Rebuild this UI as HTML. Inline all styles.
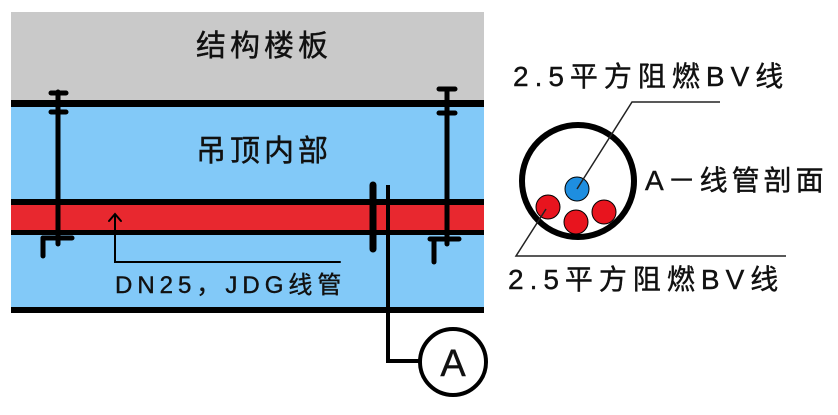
<!DOCTYPE html>
<html><head><meta charset="utf-8"><style>
html,body{margin:0;padding:0;background:#fff;width:838px;height:415px;overflow:hidden}
svg{display:block}
text{font-family:"Liberation Sans","Noto Sans CJK SC",sans-serif;fill:#111;stroke:#111;stroke-width:0.4}
</style></head><body>
<svg width="838" height="415" viewBox="0 0 838 415" xmlns="http://www.w3.org/2000/svg">
<rect x="11" y="12" width="473" height="90" fill="#c9c9c9"/>
<rect x="11" y="102" width="473" height="208" fill="#82c9f8"/>
<rect x="11" y="100" width="473" height="7" fill="#000"/>
<rect x="11" y="205" width="473" height="25" fill="#e8282f"/>
<rect x="11" y="199" width="473" height="6" fill="#000"/>
<rect x="11" y="230" width="473" height="5" fill="#000"/>
<rect x="11" y="307" width="473" height="6" fill="#000"/>
<text x="264" y="56" font-size="30" text-anchor="middle" letter-spacing="4">结构楼板</text>
<text x="264" y="161" font-size="30" text-anchor="middle" letter-spacing="4">吊顶内部</text>
<g stroke="#000" stroke-linecap="round" fill="none">
<line x1="58" y1="92" x2="58" y2="244" stroke-width="5"/>
<line x1="51" y1="93" x2="66" y2="93" stroke-width="5"/>
<line x1="51" y1="112" x2="66" y2="112" stroke-width="5"/>
<line x1="43" y1="238" x2="72" y2="238" stroke-width="5"/>
<line x1="43" y1="238" x2="43" y2="256" stroke-width="5"/>
<line x1="447" y1="89" x2="447" y2="244" stroke-width="5"/>
<line x1="439" y1="89" x2="455" y2="89" stroke-width="5"/>
<line x1="439" y1="113" x2="455" y2="113" stroke-width="5"/>
<line x1="430" y1="239" x2="459" y2="239" stroke-width="5"/>
<line x1="434" y1="239" x2="434" y2="262" stroke-width="5"/>
<line x1="373" y1="185" x2="373" y2="249" stroke-width="7"/>
<polyline points="388,185 388,361 420,361" stroke-width="4" stroke-linecap="butt"/>
<circle cx="453" cy="362" r="33" stroke-width="4"/>
<polyline points="340,262 115,262 115,215" stroke-width="2"/>
<polyline points="109,221 115,214 121,221" stroke-width="2"/>
</g>
<text x="453" y="376" font-size="38" text-anchor="middle">A</text>
<text x="115" y="293" font-size="24" letter-spacing="5">DN25，JDG线管</text>
<circle cx="578" cy="181" r="56" fill="#fff" stroke="#000" stroke-width="6"/>
<circle cx="577" cy="189" r="12" fill="#1e8ee0" stroke="#000" stroke-width="1"/>
<circle cx="548" cy="207" r="12" fill="#e8141e" stroke="#000" stroke-width="1"/>
<circle cx="576" cy="222" r="12" fill="#e8141e" stroke="#000" stroke-width="1"/>
<circle cx="604" cy="212" r="12" fill="#e8141e" stroke="#000" stroke-width="1"/>
<polyline points="577,189 632,102 720,102" fill="none" stroke="#222" stroke-width="1.5"/>
<polyline points="546,209 516,256 786,256" fill="none" stroke="#222" stroke-width="1.5"/>
<text x="513" y="86" font-size="28" letter-spacing="6">2.5平方阻燃BV线</text>
<text x="645" y="190" font-size="28" letter-spacing="4">A－线管剖面</text>
<text x="508" y="289" font-size="28" letter-spacing="6">2.5平方阻燃BV线</text>
</svg>
</body></html>
